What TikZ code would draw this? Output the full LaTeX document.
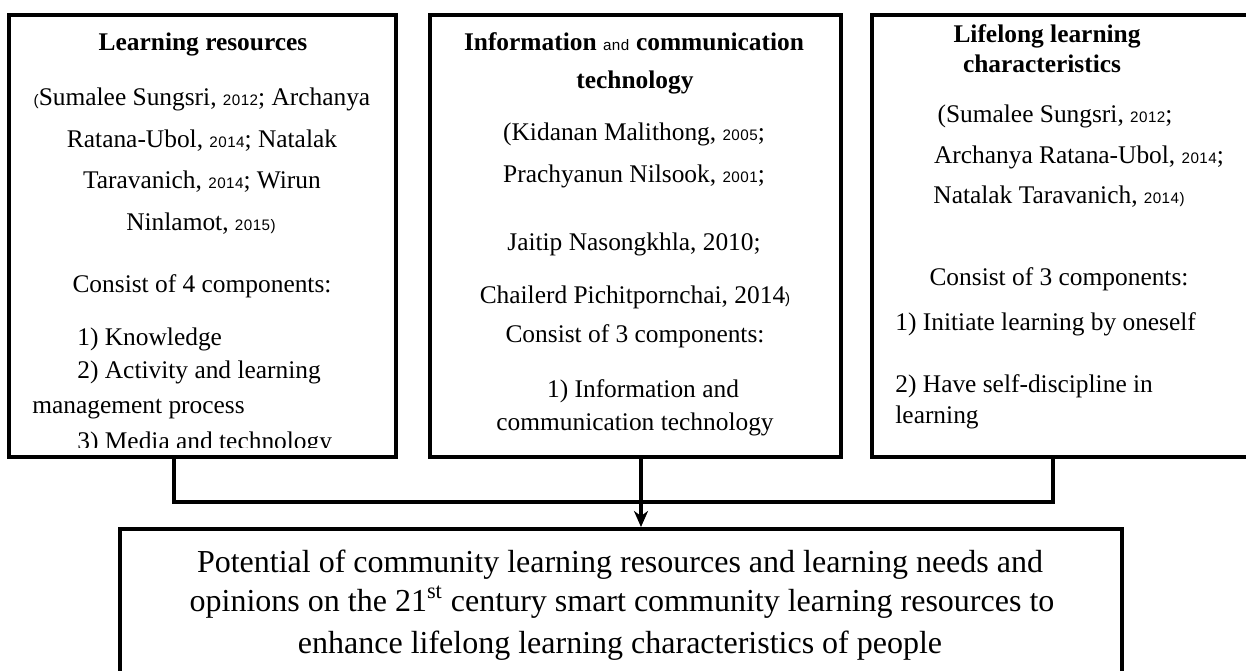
\documentclass[tikz,border=0pt]{standalone}
\usepackage{fontspec}
\setmainfont{Liberation Serif}
\newfontfamily\yrfont[LetterSpace=3]{Liberation Sans}
\newcommand{\yr}[1]{{\yrfont\fontsize{7.6}{9}\selectfont #1}}
\usetikzlibrary{arrows.meta}

\begin{document}
\begin{tikzpicture}[x=0.5pt,y=-0.5pt,
  box/.style={draw,line width=2pt,inner sep=0pt},
  ln/.style={inner sep=0pt,anchor=base,font=\fontsize{12.7}{15}\selectfont},
  lnl/.style={ln,anchor=base west},
  hd/.style={ln,font=\fontsize{12.7}{15}\selectfont\bfseries},
  big/.style={ln,font=\fontsize{16}{19}\selectfont},
  conn/.style={line width=1.8pt}]
\clip (0,0) rectangle (1246,670);
% the four boxes
\node[box,minimum width=193.5pt,minimum height=221pt] (resbox) at (202.5,236) {};
\node[box,minimum width=205.5pt,minimum height=221pt] (ictbox) at (635.5,236) {};
\node[box,minimum width=195pt,minimum height=221pt] (llbox) at (1067,236) {};
\node[box,minimum width=501pt,minimum height=93pt] (potbox) at (621,622) {};
% learning resources
\node[hd] (res0) at (203,50) {Learning resources};
\node[ln] (res1) at (202,105) {\yr{(}Sumalee Sungsri, \yr{2012}; Archanya};
\node[ln] (res2) at (202,147) {Ratana-Ubol, \yr{2014}; Natalak};
\node[ln] (res3) at (202,188) {Taravanich, \yr{2014}; Wirun};
\node[ln] (res4) at (201,230) {Ninlamot, \yr{2015)}};
\node[ln] (res5) at (202,292) {Consist of 4 components:};
\begin{scope}
\clip (12,17) rectangle (394,447);
\node[lnl] (res6) at (77,345) {1) Knowledge};
\node[lnl] (res7) at (77,378) {2) Activity and learning};
\node[lnl] (res8) at (32,413) {management process};
\node[lnl] (res9) at (77,449) {3) Media and technology};
\end{scope}
% information and communication technology
\node[hd] (ict0) at (634,50) {Information \textmd{\yr{and}} communication};
\node[hd] (ict1) at (635,88) {technology};
\node[ln] (ict2) at (634,140) {(Kidanan Malithong, \yr{2005};};
\node[ln] (ict3) at (634,182) {Prachyanun Nilsook, \yr{2001};};
\node[ln] (ict4) at (634,250) {Jaitip Nasongkhla, 2010;};
\node[ln] (ict5) at (635,303) {Chailerd Pichitpornchai, 2014\yr{)}};
\node[ln] (ict6) at (635,342) {Consist of 3 components:};
\node[ln] (ict7) at (643,397) {1) Information and};
\node[ln] (ict8) at (635,430) {communication technology};
% lifelong learning characteristics
\node[hd] (ll0) at (1047,42) {Lifelong learning};
\node[hd] (ll1) at (1042,72) {characteristics};
\node[ln] (ll2) at (1055,122) {(Sumalee Sungsri, \yr{2012};};
\node[ln] (ll3) at (1079,163) {Archanya Ratana-Ubol, \yr{2014};};
\node[ln] (ll4) at (1059,203) {Natalak Taravanich, \yr{2014)}};
\node[ln] (ll5) at (1059,285) {Consist of 3 components:};
\node[lnl] (ll6) at (895,330) {1) Initiate learning by oneself};
\node[lnl] (ll7) at (895,392) {2) Have self-discipline in};
\node[lnl] (ll8) at (895,423) {learning};
% result
\node[big] (pot0) at (620,572) {Potential of community learning resources and learning needs and};
\node[big] (pot1) at (622,611) {opinions on the 21\textsuperscript{st} century smart community learning resources to};
\node[big] (pot2) at (620,653) {enhance lifelong learning characteristics of people};
% connectors
\coordinate (jl) at (174,502);
\coordinate (jm) at (641,502);
\coordinate (jr) at (1053,502);
\draw[conn] (resbox.south -| jl) |- (jr) -- (llbox.south -| jr);
\draw[conn,-{Stealth[length=8pt,width=7pt,inset=2.5pt]}] (ictbox.south -| jm) -- (potbox.north -| jm);
\end{tikzpicture}
\end{document}
